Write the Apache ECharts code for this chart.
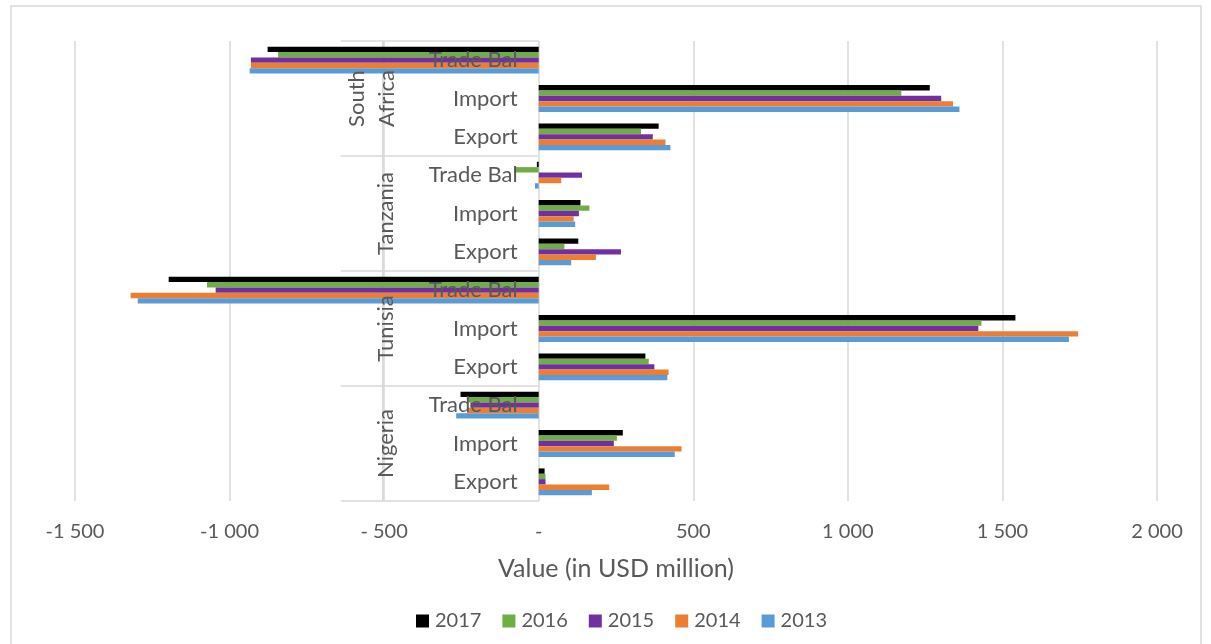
<!DOCTYPE html>
<html>
<head>
<meta charset="utf-8">
<script src="https://cdn.jsdelivr.net/npm/echarts@6/dist/echarts.min.js"></script>
<style>
html,body{margin:0;padding:0;background:#fff;}
#main{width:1211px;height:644px;}
</style>
</head>
<body>
<div id="main"></div>
<script>
// ---- data (categories listed top to bottom) ----
const groups = ['South Africa', 'Tanzania', 'Tunisia', 'Nigeria'];
const groupLabels = ['South\nAfrica', 'Tanzania', 'Tunisia', 'Nigeria'];
const subs = ['Trade Bal', 'Import', 'Export'];
const years = ['2017', '2016', '2015', '2014', '2013'];
// order: SA TB, SA Imp, SA Exp, Tz TB, Tz Imp, Tz Exp, Tn TB, Tn Imp, Tn Exp, Ng TB, Ng Imp, Ng Exp
const v2017 = [-877, 1265, 388, -6, 135, 128, -1197, 1542, 345, -253, 272, 19];
const v2016 = [-843, 1173, 331, -80, 164, 83, -1073, 1432, 356, -230, 253, 22];
const v2015 = [-931, 1302, 369, 140, 130, 266, -1045, 1422, 374, -221, 243, 22];
const v2014 = [-931, 1340, 410, 73, 113, 185, -1320, 1745, 420, -232, 462, 228];
const v2013 = [-935, 1361, 426, -12, 118, 105, -1297, 1715, 416, -267, 440, 172];
const tickValues = [-1500, -1000, -500, 0, 500, 1000, 1500, 2000];
const tickLabels = ['-1 500', '-1 000', '- 500', '-', '500', '1 000', '1 500', '2 000'];
const axisTitle = 'Value (in USD million)';

const seriesValues = [v2017, v2016, v2015, v2014, v2013];
const colors = ['#000000', '#70AD47', '#7030A0', '#ED7D31', '#5B9BD5'];
const FONT = 'Lato';
const TXT = '#595959';
const LINE = '#d9d9d9';

const categories = [];
groups.forEach(g => subs.forEach(s => categories.push(g + '|' + s)));

const chart = echarts.init(document.getElementById('main'), null, {renderer: 'canvas'});

const option = {
  animation: false,
  backgroundColor: '#ffffff',
  textStyle: {fontFamily: FONT},
  grid: {left: 75, right: 54, top: 41, bottom: 143, containLabel: false, outerBoundsMode: 'none'},
  legend: {
    data: years,
    left: 411, top: 606,
    itemWidth: 13, itemHeight: 13, itemGap: 21,
    icon: 'rect',
    textStyle: {fontFamily: FONT, fontSize: 20, color: TXT, padding: [0, 0, 0, 1]}
  },
  xAxis: {
    type: 'value',
    min: tickValues[0], max: tickValues[tickValues.length - 1], interval: 500,
    axisLine: {show: false},
    axisTick: {show: false},
    splitLine: {show: true, lineStyle: {color: LINE, width: 1.5}},
    axisLabel: {
      margin: 21, fontSize: 20, color: TXT, fontFamily: FONT,
      hideOverlap: false,
      formatter: v => { const i = tickValues.indexOf(v); return i >= 0 ? tickLabels[i] : ''; }
    },
    name: axisTitle, nameLocation: 'middle', nameGap: 55,
    nameTextStyle: {fontSize: 25, color: TXT, fontFamily: FONT}
  },
  yAxis: {
    type: 'category',
    data: categories,
    inverse: true,
    z: 10,
    position: 'left',
    offset: 0,
    axisLine: {show: false, onZero: false},
    axisTick: {show: false},
    splitLine: {show: false},
    axisLabel: {
      margin: 21, fontSize: 22, color: TXT, fontFamily: FONT,
      formatter: v => v.split('|')[1]
    }
  },
  series: years.map((y, i) => ({
    name: y,
    type: 'bar',
    data: seriesValues[i],
    itemStyle: {color: colors[i]},
    barGap: '0%',
    barCategoryGap: '30%'
  }))
};
chart.setOption(option);

// move the category axis labels onto the value 0 using the chart's scale
const zeroX = chart.convertToPixel({xAxisIndex: 0}, 0);
const leftEdge = chart.convertToPixel({xAxisIndex: 0}, tickValues[0]);
chart.setOption({yAxis: {offset: -(zeroX - leftEdge)}});

// decorations for the multi-level category axis, placed via the chart's own scales
const yc = categories.map(c => chart.convertToPixel({yAxisIndex: 0}, c));
const band = Math.abs(yc[1] - yc[0]);
const leftX = zeroX - 198;
const midX = zeroX - 156;
const graphics = [];
graphics.push({type: 'rect', shape: {x: 11, y: 6, width: 1190, height: 660},
  style: {fill: null, stroke: LINE, lineWidth: 1.5}, silent: true, z: 0});
const topY = yc[0] - band / 2;
const botY = yc[yc.length - 1] + band / 2;
graphics.push({type: 'line', shape: {x1: midX, y1: topY, x2: midX, y2: botY},
  style: {stroke: LINE, lineWidth: 1.5}, z: 1});
for (let g = 0; g <= groups.length; g++) {
  const y = g < groups.length ? yc[g * subs.length] - band / 2 : botY;
  graphics.push({type: 'line', shape: {x1: leftX, y1: y, x2: zeroX, y2: y},
    style: {stroke: LINE, lineWidth: 1.5}, z: 1});
}
groups.forEach((g, gi) => {
  const cy = (yc[gi * 3] + yc[gi * 3 + 2]) / 2;
  const twoLine = groupLabels[gi].indexOf('\n') >= 0;
  graphics.push({
    type: 'text',
    x: twoLine ? midX - 11 : midX + 3,
    y: cy,
    rotation: Math.PI / 2,
    style: {text: groupLabels[gi], fill: TXT, fontSize: 22, fontFamily: FONT,
      align: 'center', verticalAlign: 'middle', lineHeight: 30},
    z: 20
  });
});
chart.setOption({graphic: graphics});
</script>
</body>
</html>
